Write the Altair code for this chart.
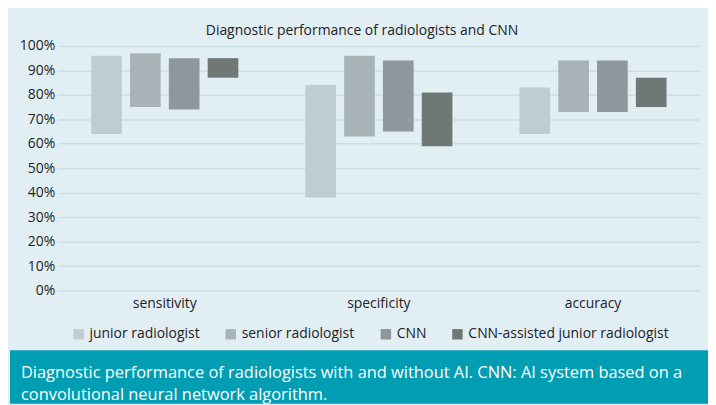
import altair as alt
import pandas as pd

categories = ["sensitivity", "specificity", "accuracy"]
series = ["junior radiologist", "senior radiologist", "CNN", "CNN-assisted junior radiologist"]
low_values = {
    "junior radiologist": [64, 38, 64],
    "senior radiologist": [75, 63, 73],
    "CNN": [74, 65, 73],
    "CNN-assisted junior radiologist": [87, 59, 75],
}
high_values = {
    "junior radiologist": [96, 84, 83],
    "senior radiologist": [97, 96, 94],
    "CNN": [95, 94, 94],
    "CNN-assisted junior radiologist": [95, 81, 87],
}
bar_colors = ["#bfcdd3", "#a8b3b8", "#8e979c", "#6f7877"]
y_ticks = [0, 10, 20, 30, 40, 50, 60, 70, 80, 90, 100]
title_text = "Diagnostic performance of radiologists and CNN"
caption_text = ("Diagnostic performance of radiologists with and without AI. CNN: AI system based on a\n"
                "convolutional neural network algorithm.")

rows = []
for s in series:
    for i, c in enumerate(categories):
        rows.append({"category": c, "series": s, "low": low_values[s][i], "high": high_values[s][i]})
df = pd.DataFrame(rows)

FONT = "Open Sans"
W, H = 646, 246

bars = alt.Chart(df).mark_bar(stroke=None).encode(
    x=alt.X("category:N", sort=categories,
            scale=alt.Scale(paddingInner=0.313, paddingOuter=0.1565),
            axis=alt.Axis(title=None, labelAngle=0, domain=False, ticks=False,
                          labelFontSize=14, labelPadding=6, labelColor="#222222",
                          labelFont=FONT, grid=False)),
    xOffset=alt.XOffset("series:N", sort=series,
                        scale=alt.Scale(paddingInner=0.21, paddingOuter=0)),
    y=alt.Y("low:Q", scale=alt.Scale(domain=[0, 100]),
            axis=alt.Axis(title=None, values=y_ticks, labelExpr="datum.value + '%'",
                          domain=False, ticks=False, labelFontSize=14, labelPadding=3,
                          labelColor="#222222", labelFont=FONT, grid=True,
                          gridColor="#cddde4", gridWidth=1.5)),
    y2="high:Q",
    color=alt.Color("series:N", sort=series,
                    scale=alt.Scale(domain=series, range=bar_colors),
                    legend=alt.Legend(title=None, orient="none", legendX=14, legendY=283,
                                      direction="horizontal", columns=4, symbolType="square",
                                      symbolSize=110, symbolStrokeWidth=0, columnPadding=24,
                                      labelFontSize=14, labelFont=FONT, labelColor="#222222",
                                      labelLimit=0, symbolOffset=0, labelOffset=4)),
)

caption_df = pd.DataFrame({"t": [caption_text]})
teal = alt.Chart(caption_df).mark_rect(color="#019db2", clip=False).encode(
    x=alt.value(-48), x2=alt.value(654), y=alt.value(306), y2=alt.value(360)
)
caption = alt.Chart(caption_df).mark_text(
    align="left", baseline="top", color="white", fontSize=16.5, font=FONT,
    lineBreak="\n", lineHeight=22, clip=False
).encode(x=alt.value(-37), y=alt.value(321), text="t:N")

chart = alt.layer(bars, teal, caption).properties(
    width=W, height=H,
    title=alt.TitleParams(title_text, fontSize=14, font=FONT, fontWeight="normal",
                          color="#222222", anchor="middle", dx=-17, offset=1),
    background="#e1eff5",
    padding={"left": 50, "top": 37, "right": 8, "bottom": 114},
    autosize=alt.AutoSizeParams(type="none"),
).configure_view(stroke=None)

chart.save("out.html", embed_options={"renderer": "svg", "actions": False})
